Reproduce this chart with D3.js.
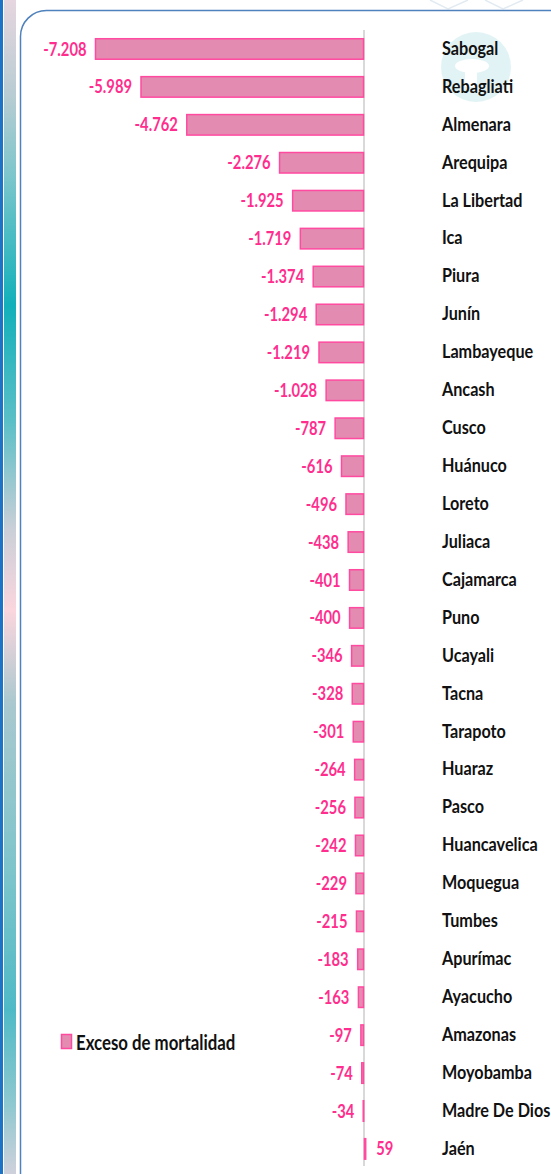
<!DOCTYPE html>
<html>
<head>
<meta charset="utf-8">
<script src="https://cdn.jsdelivr.net/npm/d3@7"></script>
<style>
  html, body { margin: 0; padding: 0; background: #fff; }
  svg { display: block; }
</style>
</head>
<body>
<svg id="chart" width="551" height="1174"></svg>
<script>
const categories = ["Sabogal","Rebagliati","Almenara","Arequipa","La Libertad","Ica","Piura","Junín","Lambayeque","Ancash","Cusco","Huánuco","Loreto","Juliaca","Cajamarca","Puno","Ucayali","Tacna","Tarapoto","Huaraz","Pasco","Huancavelica","Moquegua","Tumbes","Apurímac","Ayacucho","Amazonas","Moyobamba","Madre De Dios","Jaén"];
const values = [-7208,-5989,-4762,-2276,-1925,-1719,-1374,-1294,-1219,-1028,-787,-616,-496,-438,-401,-400,-346,-328,-301,-264,-256,-242,-229,-215,-183,-163,-97,-74,-34,59];
const seriesName = "Exceso de mortalidad";

const svg = d3.select("#chart");
const W = 551, H = 1174;

// left decorative strip
const defs = svg.append("defs");
const grad = defs.append("linearGradient").attr("id","strip").attr("x1",0).attr("y1",0).attr("x2",0).attr("y2",1);
[[0,"#e6d6df"],[0.08,"#b9ccd3"],[0.15,"#7cc6cc"],[0.26,"#12b0ba"],[0.36,"#5cbfc7"],[0.45,"#c9cfd8"],[0.52,"#fbd6de"],[0.6,"#a9c8cf"],[0.75,"#7bc4cb"],[0.86,"#4fbac6"],[0.94,"#8ec8d0"],[1,"#cfd1dc"]]
  .forEach(([o,c]) => grad.append("stop").attr("offset",o).attr("stop-color",c));
svg.append("rect").attr("x",0).attr("y",0).attr("width",3).attr("height",H).attr("fill","#1d74c6");
svg.append("rect").attr("x",4).attr("y",0).attr("width",12).attr("height",H).attr("fill","url(#strip)");

// faint decorations at top
const deco = svg.append("g").attr("stroke","#e3ebf2").attr("stroke-width",1.5).attr("fill","none");
deco.append("path").attr("d","M430,0 L448,9 L468,0 M485,0 L503,9 L523,0");

// watermark
const wm = svg.append("g").attr("opacity",0.45);
wm.append("circle").attr("cx",476).attr("cy",67).attr("r",35).attr("fill","#bfe6ea");
wm.append("ellipse").attr("cx",472).attr("cy",66).attr("rx",17).attr("ry",7).attr("fill","#ffffff");
wm.append("rect").attr("x",465).attr("y",70).attr("width",12).attr("height",17).attr("fill","#ffffff");

// border
svg.append("rect").attr("x",20.5).attr("y",10.5).attr("width",620).attr("height",1300)
  .attr("rx",26).attr("ry",26).attr("fill","none").attr("stroke","#4f81bd").attr("stroke-width",1.5);

// scales
const x = d3.scaleLinear().domain([-7208, 59]).range([95, 366.2]);
const y = d3.scaleBand().domain(categories).range([21.8, 1176.1]).paddingInner(0.433).paddingOuter(0.433);

const fmt = d3.formatLocale({decimal: ",", thousands: ".", grouping: [3], currency: ["", ""], minus: "-"}).format(",d");

const pink = "#ff2e8e";
const barFill = "#e48bb2";
const barStroke = "#ff4aa0";
const SX = 0.82;
const SXC = 0.9;

// zero axis line
svg.append("line").attr("x1",x(0)).attr("x2",x(0)).attr("y1",30).attr("y2",1166)
  .attr("stroke","#d9d9d9").attr("stroke-width",2);

const data = categories.map((c,i) => ({c, v: values[i]}));

// bars
svg.append("g").selectAll("rect").data(data).join("rect")
  .attr("x", d => Math.min(x(d.v), x(0)) + 0.5)
  .attr("y", d => y(d.c) + 0.5)
  .attr("width", d => Math.max(Math.abs(x(d.v) - x(0)) - 1, 0.5))
  .attr("height", y.bandwidth() - 1)
  .attr("fill", barFill).attr("stroke", barStroke).attr("stroke-width", 1.5);

// value labels
svg.append("g").selectAll("text").data(data).join("text")
  .attr("transform", d => {
    const cy = y(d.c) + y.bandwidth()/2;
    const tx = d.v < 0 ? x(d.v) - 8.5 : x(d.v) + 10;
    return `translate(${tx},${cy}) scale(${SX},1)`;
  })
  .attr("text-anchor", d => d.v < 0 ? "end" : "start")
  .attr("dominant-baseline","central")
  .attr("font-family","Lato, 'Open Sans', sans-serif")
  .attr("font-weight","bold").attr("font-size",18)
  .attr("fill", pink)
  .text(d => fmt(d.v));

// category labels
svg.append("g").selectAll("text").data(data).join("text")
  .attr("transform", d => `translate(442,${y(d.c) + y.bandwidth()/2 - 1}) scale(${SXC},1)`)
  .attr("dominant-baseline","central")
  .attr("font-family","Lato, 'Open Sans', sans-serif")
  .attr("font-weight","bold").attr("font-size",18)
  .attr("fill","#111")
  .text(d => d.c);

// legend
const lg = svg.append("g");
lg.append("rect").attr("x",61.5).attr("y",1034.5).attr("width",10).attr("height",14)
  .attr("fill", barFill).attr("stroke", barStroke).attr("stroke-width",1.5);
lg.append("text").attr("transform",`translate(76,1042) scale(0.8,1)`)
  .attr("dominant-baseline","central")
  .attr("font-family","Lato, 'Open Sans', sans-serif")
  .attr("font-weight","bold").attr("font-size",21)
  .attr("fill","#111").text(seriesName);
</script>
</body>
</html>
